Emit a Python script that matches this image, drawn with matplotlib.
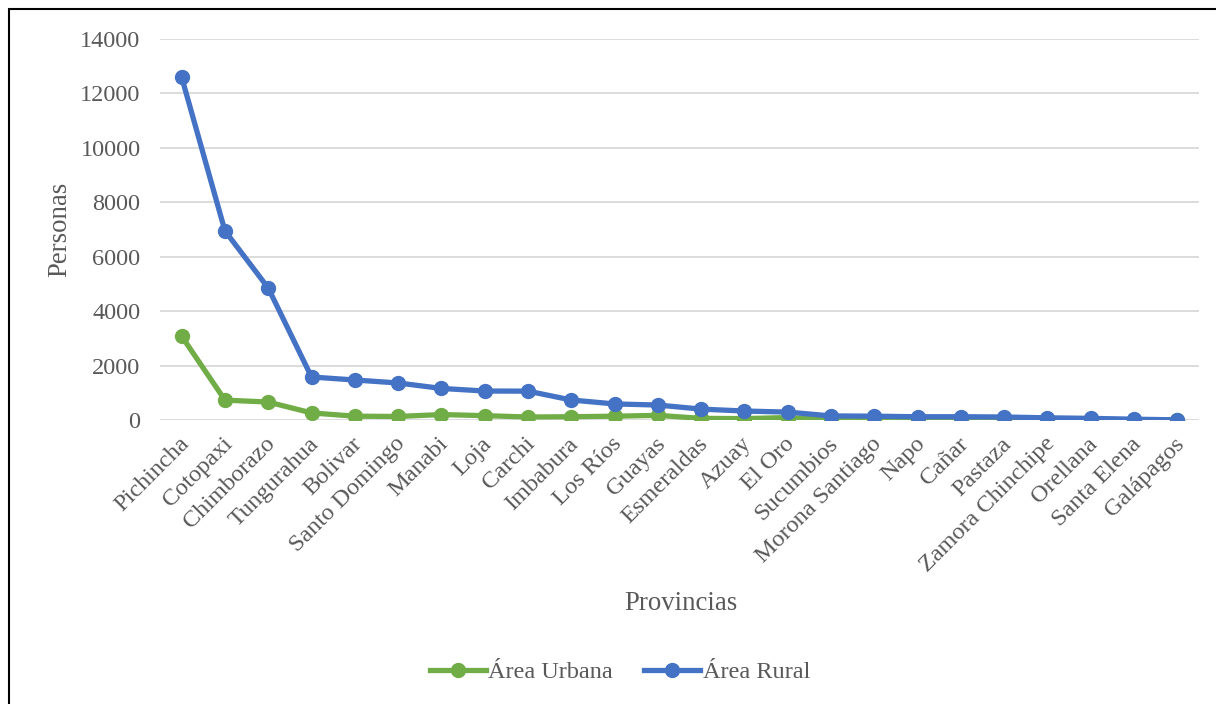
import matplotlib
matplotlib.use("Agg")
import matplotlib.pyplot as plt
import matplotlib.transforms as mtransforms
from matplotlib.patches import Rectangle
from matplotlib.lines import Line2D

provincias = ["Pichincha", "Cotopaxi", "Chimborazo", "Tungurahua", "Bolivar",
              "Santo Domingo", "Manabi", "Loja", "Carchi", "Imbabura", "Los Ríos",
              "Guayas", "Esmeraldas", "Azuay", "El Oro", "Sucumbios",
              "Morona Santiago", "Napo", "Cañar", "Pastaza", "Zamora Chinchipe",
              "Orellana", "Santa Elena", "Galápagos"]
urbana = [3080, 730, 660, 260, 140, 130, 200, 160, 110, 120, 140, 170,
          60, 50, 90, 10, 10, 15, 10, 15, 10, 10, 10, 5]
rural = [12600, 6950, 4850, 1580, 1470, 1360, 1160, 1065, 1060, 735, 590, 550,
         400, 330, 290, 150, 140, 120, 120, 110, 80, 60, 30, 5]
yticks = [0, 2000, 4000, 6000, 8000, 10000, 12000, 14000]

plt.rcParams['font.family'] = ['Liberation Serif', 'DejaVu Serif']
text_color = '#595959'
green = '#70AD47'
blue = '#4472C4'

W, H = 1216, 704
fig = plt.figure(figsize=(W / 100, H / 100), dpi=100)
ax = fig.add_axes([160 / W, 1 - 420 / H, (1199 - 160) / W, (420 - 39) / H])

x = list(range(len(provincias)))
ax.plot(x, urbana, color=green, lw=3.8, marker='o', ms=10, solid_capstyle='round',
        solid_joinstyle='round', label='Área Urbana', zorder=3)
ax.plot(x, rural, color=blue, lw=3.8, marker='o', ms=10, solid_capstyle='round',
        solid_joinstyle='round', label='Área Rural', zorder=4)

ax.set_xlim(-0.5, len(provincias) - 0.5)
ax.set_ylim(0, 14000)
ax.set_yticks(yticks)
ax.set_yticklabels([str(v) for v in yticks])
ax.grid(axis='y', color='#D9D9D9', lw=1.3)
ax.set_axisbelow(True)
for s in ax.spines.values():
    s.set_visible(False)
ax.tick_params(axis='y', length=0, pad=14, labelsize=17.5, labelcolor=text_color)
ax.set_xticks(x)
ax.set_xticklabels(provincias, rotation=45, ha='right', va='center',
                   rotation_mode='anchor', fontsize=17.5, color=text_color)
ax.tick_params(axis='x', length=0, pad=15)
offset = mtransforms.ScaledTranslation(4 / 100, 0, fig.dpi_scale_trans)
for lbl in ax.get_xticklabels():
    lbl.set_transform(lbl.get_transform() + offset)

fig.text(60 / W, 1 - 229 / H, 'Personas', fontsize=19.3, color=text_color,
         ha='center', va='center', rotation=90)
fig.text(681 / W, 1 - 604 / H, 'Provincias', fontsize=19.3, color=text_color,
         ha='center', va='center')

handles = [Line2D([0], [0], color=green, lw=3.8, marker='o', ms=10),
           Line2D([0], [0], color=blue, lw=3.8, marker='o', ms=10)]
leg = fig.legend(handles, ['Área Urbana', 'Área Rural'], loc='center',
                 bbox_to_anchor=(620 / W, 1 - 672 / H), ncol=2, frameon=False,
                 fontsize=17.5, handlelength=2.3, handletextpad=0.1, columnspacing=1.3)
for t in leg.get_texts():
    t.set_color(text_color)

fig.patches.append(Rectangle((9 / W, -0.1), 1.2, 1 - 9 / H + 0.1, transform=fig.transFigure,
                             fill=False, edgecolor='black', lw=1.5))

fig.savefig('out.png', dpi=100)
